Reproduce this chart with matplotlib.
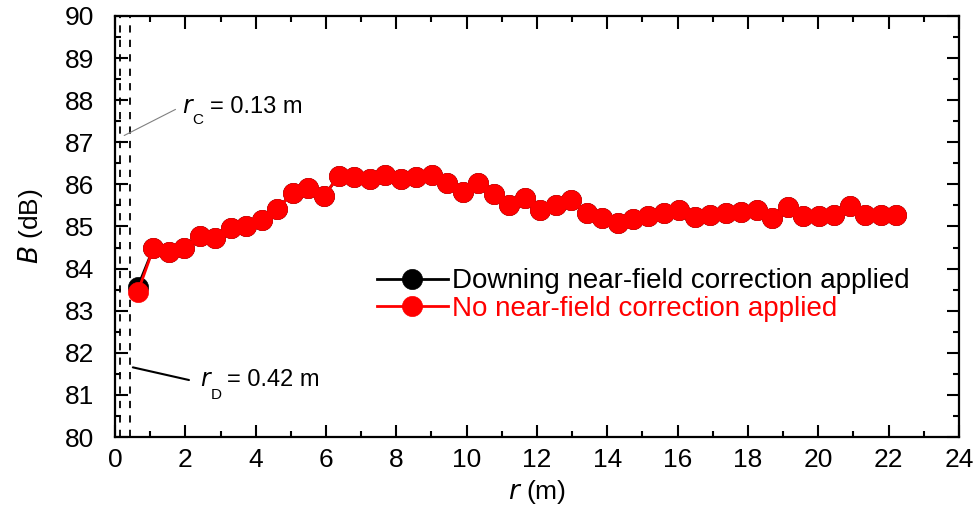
import numpy as np
import matplotlib
matplotlib.use("Agg")
import matplotlib.pyplot as plt
from matplotlib.ticker import MultipleLocator

plt.rcParams['font.family'] = ['Liberation Sans', 'DejaVu Sans']

# distances (m)
r = [0.65, 1.09, 1.53, 1.97, 2.41, 2.85, 3.29, 3.73, 4.17, 4.61,
     5.05, 5.49, 5.93, 6.37, 6.81, 7.25, 7.69, 8.13, 8.57, 9.01,
     9.45, 9.89, 10.33, 10.77, 11.21, 11.65, 12.09, 12.53, 12.97, 13.41,
     13.85, 14.29, 14.73, 15.17, 15.61, 16.05, 16.49, 16.93, 17.37, 17.81,
     18.25, 18.69, 19.13, 19.57, 20.01, 20.45, 20.89, 21.33, 21.77, 22.21]

# no near-field correction
B_raw = [83.45, 84.48, 84.40, 84.48, 84.77, 84.72, 84.96, 85.01, 85.15, 85.41,
         85.80, 85.92, 85.72, 86.20, 86.18, 86.12, 86.22, 86.12, 86.18, 86.22,
         86.03, 85.83, 86.04, 85.76, 85.52, 85.67, 85.38, 85.52, 85.63, 85.32,
         85.19, 85.08, 85.17, 85.25, 85.33, 85.38, 85.22, 85.27, 85.33, 85.35,
         85.39, 85.19, 85.46, 85.25, 85.25, 85.27, 85.49, 85.27, 85.27, 85.27]

# Downing correction: only the first point differs visibly
B_down = [83.57] + B_raw[1:]

r_C = 0.13
r_D = 0.42

fig = plt.figure(figsize=(9.79, 5.13), dpi=100)
ax = fig.add_axes([0.1175, 0.148, 0.862, 0.821])

ax.axvline(r_C, color='black', lw=1.3, dashes=(4, 4), zorder=1)
ax.axvline(r_D, color='black', lw=1.3, dashes=(4, 4), zorder=1)

ax.plot(r, B_down, color='black', lw=2, marker='o', ms=14.5, mec='black', mew=0.5,
        label='Downing near-field correction applied', zorder=3)
ax.plot(r, B_raw, color='#ff0000', lw=2, marker='o', ms=14.5, mec='#ff0000', mew=0.5,
        label='No near-field correction applied', zorder=4)

ax.set_xlim(0, 24)
ax.set_ylim(80, 90)
ax.xaxis.set_major_locator(MultipleLocator(2))
ax.xaxis.set_minor_locator(MultipleLocator(1))
ax.yaxis.set_major_locator(MultipleLocator(1))
ax.yaxis.set_minor_locator(MultipleLocator(0.5))
ax.tick_params(which='both', direction='in', top=True, right=True, width=1.5,
               labelsize=19)
ax.tick_params(which='major', length=9)
ax.tick_params(which='minor', length=4.5)
ax.tick_params(axis='x', which='major', pad=8)
ax.tick_params(axis='y', which='major', pad=15)
for s in ax.spines.values():
    s.set_linewidth(1.6)

ax.set_xlabel('$\\mathit{r}$ (m)', fontsize=19, labelpad=4)
ax.set_ylabel('$\\mathit{B}$ (dB)', fontsize=19, labelpad=14)

# annotations for the two limits
ax.annotate('', xy=(0.19, 87.13), xytext=(1.79, 87.81),
            arrowprops=dict(arrowstyle='-', color='gray', lw=0.8))
ax.text(1.9, 87.84, '$\\mathit{r}$', fontsize=17, va='center', ha='left')
ax.text(2.2, 87.53, 'C', fontsize=11, va='center', ha='left')
ax.text(2.7, 87.84, '= 0.13 m', fontsize=17, va='center', ha='left')

ax.annotate('', xy=(0.43, 81.67), xytext=(2.18, 81.34),
            arrowprops=dict(arrowstyle='-', color='black', lw=1.5))
ax.text(2.42, 81.35, '$\\mathit{r}$', fontsize=17, va='center', ha='left')
ax.text(2.72, 81.0, 'D', fontsize=11, va='center', ha='left')
ax.text(3.19, 81.35, '= 0.42 m', fontsize=17, va='center', ha='left')

leg = ax.legend(loc='upper left', bbox_to_anchor=(0.297, 0.427), frameon=False,
                fontsize=20, handlelength=2.55, handletextpad=0.15,
                labelspacing=0.05, borderaxespad=0)
for txt, h in zip(leg.get_texts(), leg.legend_handles):
    txt.set_color(h.get_color())

fig.savefig('out.png', dpi=100)
